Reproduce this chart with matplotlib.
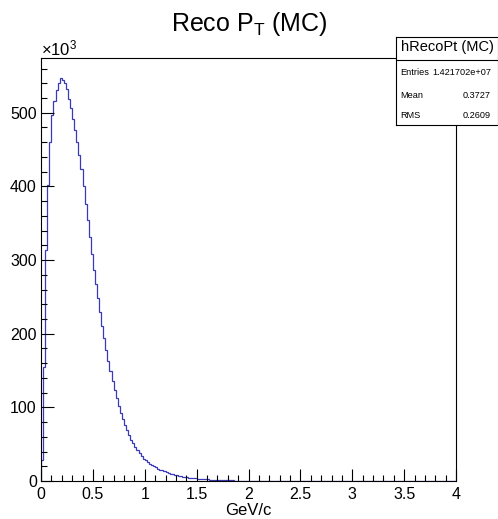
import matplotlib
matplotlib.use('Agg')
import matplotlib.pyplot as plt
from matplotlib.ticker import MultipleLocator
import numpy as np

plt.rcParams['font.family'] = ['Liberation Sans', 'DejaVu Sans']

# histogram: 200 bins of 0.02 GeV/c between 0 and 4, counts in units of 10^3
x_min = 0.0
x_max = 4.0
n_bins = 200
counts_k = [
    28, 155, 313, 402, 460, 497, 516, 531, 541, 547,
    545, 541, 532, 519, 507, 492, 476, 460, 442, 423,
    400, 376, 355, 331, 308, 287, 267, 248, 229, 211,
    194, 178, 163, 149, 136, 124, 113, 102, 93, 84,
    76, 69, 62, 56, 51, 46, 41.5, 37.5, 34, 30.5,
    28, 25.7, 23.6, 21.7, 20.0, 18.4, 16.9, 15.5, 14.3, 13.1,
    12.0, 11.0, 10.1, 9.3, 8.6, 7.9, 7.2, 6.6, 6.1, 5.6,
    5.1, 4.7, 4.3, 4.0, 3.6, 3.3, 3.0, 2.8, 2.6, 2.3,
    2.1, 1.9, 1.8, 1.6, 1.5, 1.4, 1.2, 1.1, 1.0, 0.9,
    0.85, 0.78, 0.71, 0.65, 0.6, 0.55, 0.5, 0.46, 0.42, 0.38,
]
counts_k = counts_k + [0] * (n_bins - len(counts_k))

hist_name = "hRecoPt (MC)"
stat_labels = ["Entries", "Mean", "RMS"]
stat_values = ["1.421702e+07", "0.3727", "0.2609"]

W, H = 498, 519
fig = plt.figure(figsize=(W / 100, H / 100), dpi=100)
ax = fig.add_axes([41 / W, 1 - 481 / H, 415 / W, 423 / H])

edges = np.linspace(x_min, x_max, n_bins + 1)
ax.stairs(counts_k, edges, color='#3a3ab8', linewidth=0.9)

ax.set_xlim(x_min, x_max)
ax.set_ylim(0, 1.05 * max(counts_k))
ax.xaxis.set_minor_locator(MultipleLocator(0.1))
ax.yaxis.set_major_locator(MultipleLocator(100))
ax.yaxis.set_minor_locator(MultipleLocator(20))
ax.set_xticks(np.arange(0, 4.01, 0.5))
ax.set_xticklabels(['0', '0.5', '1', '1.5', '2', '2.5', '3', '3.5', '4'])
ax.tick_params(which='both', direction='in', top=False, right=False,
               width=0.8, labelsize=11.5, color='black')
ax.tick_params(which='major', length=9)
ax.tick_params(which='minor', length=4.5)
ax.tick_params(axis='x', pad=4)
ax.tick_params(axis='y', pad=3)
for s in ax.spines.values():
    s.set_linewidth(0.8)

ax.set_xlabel("GeV/c", fontsize=12, labelpad=1)
fig.text(41 / W, 1 - 55 / H, r"$\mathregular{\times10^{3}}$", fontsize=12,
         ha='left', va='baseline')

fig.text(0.5, 1 - 31 / H, r"Reco P$_\mathregular{T}$ (MC)", fontsize=18,
         ha='center', va='baseline')

# stats box
box = fig.add_axes([396 / W, 1 - 125 / H, 102 / W, 88 / H])
box.set_xlim(396, 498)
box.set_ylim(125, 37)
box.set_xticks([])
box.set_yticks([])
box.set_facecolor('white')
for s in box.spines.values():
    s.set_linewidth(0.8)
box.axhline(60, color='black', linewidth=0.8)
box.text(447, 47, hist_name, fontsize=10.5, ha='center', va='center')
rows_y = [72.5, 95.5, 115]
for lab, val, y in zip(stat_labels, stat_values, rows_y):
    box.text(400, y, lab, fontsize=6.6, ha='left', va='center')
    box.text(491, y, val, fontsize=6.6, ha='right', va='center')

fig.savefig("out.png", dpi=100)
